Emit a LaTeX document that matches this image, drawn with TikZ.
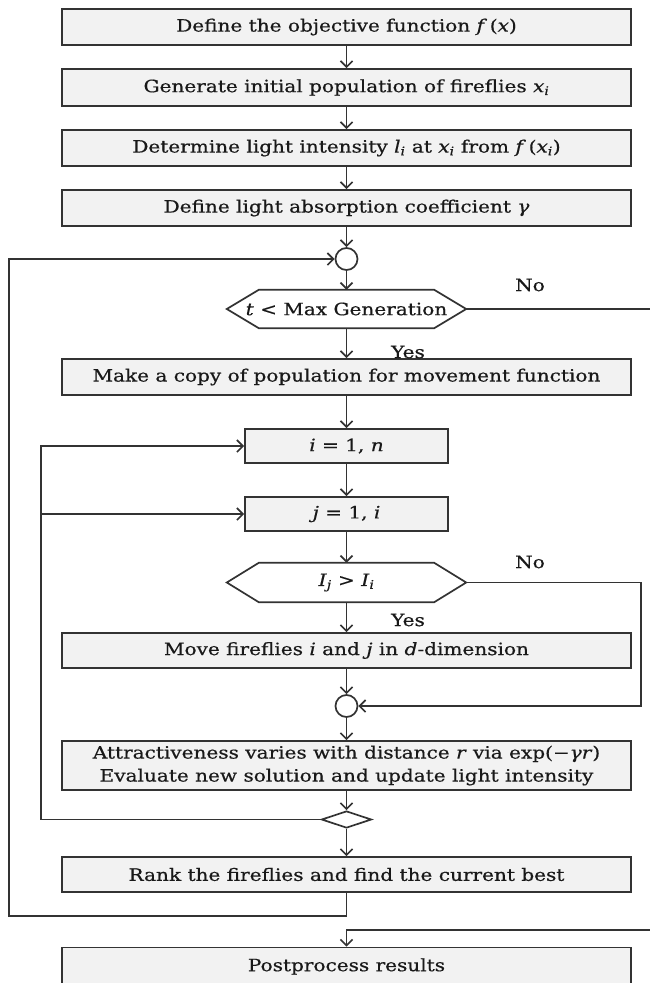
\documentclass[tikz,border=0pt]{standalone}
\usepackage{fontspec}
\setmainfont[FakeStretch=1.18,FakeBold=0.6]{DejaVu Serif}
\usetikzlibrary{arrows.meta,shapes.geometric,calc}
\definecolor{linecol}{HTML}{333333}
\definecolor{boxfill}{HTML}{F2F2F2}
\newcommand{\vv}[1]{\textit{#1}}
\newcommand{\sbi}[1]{\textsubscript{\textit{#1}}}
\begin{document}
\begin{tikzpicture}[x=1pt,y=-1pt,
  every node/.style={font=\fontsize{17}{23}\selectfont, text=black!90},
  box/.style={draw=linecol, fill=boxfill, line width=1.7pt, minimum width=569pt, inner sep=0pt, align=center},
  smallbox/.style={box, minimum width=203pt, minimum height=34pt},
  hexnode/.style={minimum width=239pt, minimum height=38pt, inner sep=0pt},
  junction/.style={draw=linecol, fill=white, line width=1.7pt, circle, minimum size=22pt, inner sep=0pt},
  joindia/.style={draw=linecol, fill=white, line width=1.7pt, diamond, minimum width=50pt, minimum height=17pt, inner sep=0pt},
  conn/.style={draw=linecol, line width=1.7pt},
  arr/.style={conn, -{Straight Barb[length=6pt,width=12pt]}},
  lbl/.style={inner sep=0pt}]
\useasboundingbox (0,0) rectangle (649,983);
\fill[white] (0,0) rectangle (649,983);

\node[box, minimum height=36pt] (b1) at (346.5,27) {Define the objective function \vv{f}\,(\vv{x})};
\node[box, minimum height=37pt] (b2) at (346.5,87.5) {Generate initial population of fireflies \vv{x}\sbi{i}};
\node[box, minimum height=36pt] (b3) at (346.5,148) {Determine light intensity \vv{l}\sbi{i} at \vv{x}\sbi{i} from \vv{f}\,(\vv{x}\sbi{i})};
\node[box, minimum height=36pt] (b4) at (346.5,208) {Define light absorption coefficient \vv{γ}};
\node[junction] (c1) at (346.5,259) {};
\node[hexnode] (h1) at (346.5,309) {\vv{t} < Max Generation};
\draw[conn, fill=white] ([xshift=32pt]h1.north west) -- ([xshift=-32pt]h1.north east) -- (h1.east) -- ([xshift=-32pt]h1.south east) -- ([xshift=32pt]h1.south west) -- (h1.west) -- cycle;
\node[hexnode] at (346.5,309) {\vv{t} < Max Generation};
\node[box, minimum height=36pt] (b5) at (346.5,377) {Make a copy of population for movement function};
\node[smallbox] (bi) at (346.5,446) {\vv{i} = 1, \vv{n}};
\node[smallbox] (bj) at (346.5,514) {\vv{j} = 1, \vv{i}};
\node[hexnode, minimum height=39pt] (h2) at (346.5,582.5) {\vv{I}\sbi{j} > \vv{I}\sbi{i}};
\draw[conn, fill=white] ([xshift=32pt]h2.north west) -- ([xshift=-32pt]h2.north east) -- (h2.east) -- ([xshift=-32pt]h2.south east) -- ([xshift=32pt]h2.south west) -- (h2.west) -- cycle;
\node[hexnode, minimum height=39pt] at (346.5,582.5) {\vv{I}\sbi{j} > \vv{I}\sbi{i}};
\node[box, minimum height=35pt] (mv) at (346.5,650.5) {Move fireflies \vv{i} and \vv{j} in \vv{d}-dimension};
\node[junction] (c2) at (346.5,706) {};
\node[box, minimum height=49pt] (at) at (346.5,765.5) {Attractiveness varies with distance \vv{r} via exp(−\vv{γr})\\Evaluate new solution and update light intensity};
\node[joindia] (d) at (346.5,819.5) {};
\node[box, minimum height=35pt] (rk) at (346.5,874.5) {Rank the fireflies and find the current best};
\node[box, minimum height=38pt] (pb) at (346.5,966.5) {Postprocess results};

\node[lbl] (no1) at (530,285) {No};
\node[lbl] (yes1) at (408,352) {Yes};
\node[lbl] (no2) at (530,562) {No};
\node[lbl] (yes2) at (408,620) {Yes};

\coordinate (oL) at (9,916);
\coordinate (iL) at (41,819.5);
\coordinate (nR1) at (665,309);
\coordinate (nR2) at (641,582.5);
\coordinate (pR) at (665,930);

\draw[arr] (b1) -- (b2);
\draw[arr] (b2) -- (b3);
\draw[arr] (b3) -- (b4);
\draw[arr] (b4) -- (c1);
\draw[arr] (c1) -- (h1);
\draw[arr] (h1) -- (b5);
\draw[arr] (b5) -- (bi);
\draw[arr] (bi) -- (bj);
\draw[arr] (bj) -- (h2);
\draw[arr] (h2) -- (mv);
\draw[arr] (mv) -- (c2);
\draw[arr] (c2) -- (at);
\draw[arr] (at) -- (d);
\draw[arr] (d) -- (rk);
\draw[arr] (rk.south) -- (rk.south |- oL) -- (oL) |- (c1);
\draw[arr] (d.west) -- (iL) |- (bi);
\draw[arr] (iL |- bj) -- (bj);
\draw[arr] (h2.east) -- (nR2) |- (c2);
\draw[conn] (h1.east) -- (nR1);
\draw[arr] (pR) -| (pb);
\end{tikzpicture}
\end{document}
